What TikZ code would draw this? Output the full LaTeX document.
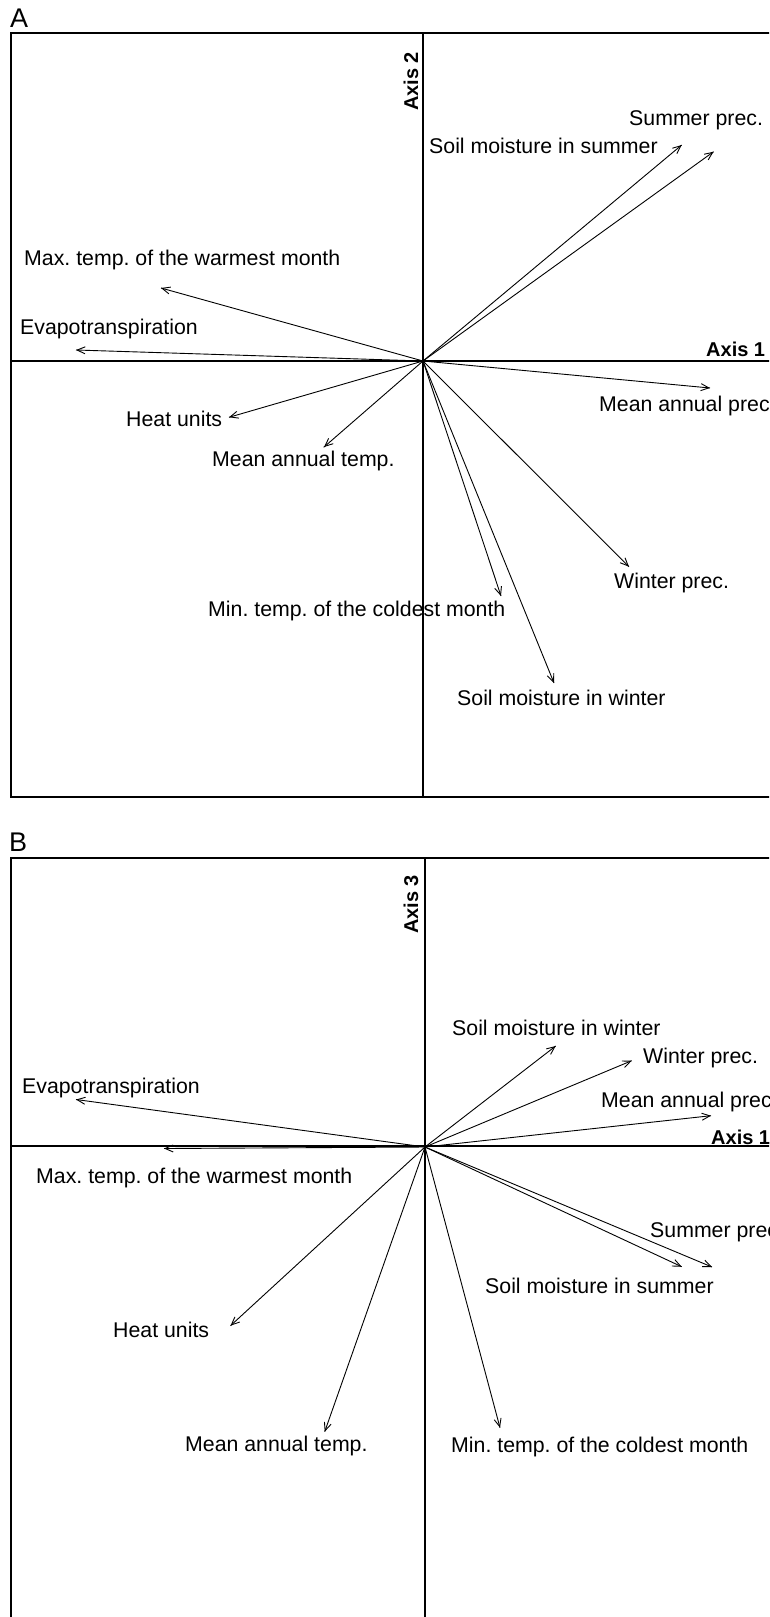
\documentclass[tikz,border=0pt]{standalone}
\usepackage{fontspec}
\setmainfont{Liberation Sans}
\frenchspacing
\usetikzlibrary{arrows.meta, decorations.markings}
\tikzstyle{Arrow} = [
line width=0.9pt,
decoration={
markings,
mark=at position 0.9999 with {
\arrow[line width=0.9pt]{Straight Barb[length=8pt,width=7pt]}}},
preaction = {decorate}]
\tikzstyle{Frame} = [line width=1.8pt]
\tikzstyle{AxisLine} = [line width=1.2pt]
\tikzstyle{Lab} = [inner sep=0pt, anchor=base west, font=\fontsize{21.3}{25}\selectfont]
\tikzstyle{AxLab} = [inner sep=0pt, anchor=base west, font=\bfseries\fontsize{20}{24}\selectfont]
\tikzstyle{Panel} = [inner sep=0pt, anchor=base west, font=\fontsize{27}{32}\selectfont]

\begin{document}
\begin{tikzpicture}[x=1pt, y=-1pt]
    \useasboundingbox (0,0) rectangle (769,1617);
    \clip (0,0) rectangle (769,1617);

    % panel A
    \node [Panel] (pA) at (10,27) {A};
    \draw [Frame] (11,33) rectangle (800,797);
    \coordinate (oA) at (423,361);
    \coordinate (nA) at (423,33);
    \coordinate (sA) at (423,797);
    \coordinate (wA) at (11,361);
    \coordinate (eA) at (800,361);
    \draw [AxisLine] (nA) -- (sA);
    \draw [AxisLine] (wA) -- (eA);
    \node [AxLab] (x1A) at (706,356){Axis 1};
    \node [AxLab, rotate=90] (x2A) at (418,111){Axis 2};

    \coordinate (A1) at (713.6,151.7);
    \coordinate (A2) at (681.7,145);
    \coordinate (A3) at (161,288);
    \coordinate (A4) at (76,350);
    \coordinate (A5) at (710,388);
    \coordinate (A6) at (229,417.3);
    \coordinate (A7) at (323.7,447.3);
    \coordinate (A8) at (629,566.7);
    \coordinate (A9) at (501,596);
    \coordinate (A10) at (554,683);

    \node [Lab] (LA1) at (629,125){Summer prec.};
    \node [Lab] (LA2) at (429,153){Soil moisture in summer};
    \node [Lab] (LA3) at (24,265){Max. temp. of the warmest month};
    \node [Lab] (LA4) at (20,334){Evapotranspiration};
    \node [Lab] (LA5) at (599,411){Mean annual prec.};
    \node [Lab] (LA6) at (126,426){Heat units};
    \node [Lab] (LA7) at (212,466){Mean annual temp.};
    \node [Lab] (LA8) at (614,588){Winter prec.};
    \node [Lab] (LA9) at (208,616){Min. temp. of the coldest month};
    \node [Lab] (LA10) at (457,705){Soil moisture in winter};

    \foreach \i in {1,...,10}
        \draw [Arrow] (oA) to (A\i);

    % panel B
    \node [Panel] (pB) at (9,851) {B};
    \draw [Frame] (11,858) rectangle (800,1700);
    \coordinate (oB) at (425,1147);
    \coordinate (nB) at (425,858);
    \coordinate (sB) at (425,1700);
    \coordinate (wB) at (11,1146);
    \coordinate (eB) at (800,1146);
    \draw [AxisLine] (nB) -- (sB);
    \draw [AxisLine] (wB) -- (eB);
    \node [AxLab] (x1B) at (711,1144){Axis 1};
    \node [AxLab, rotate=90] (x3B) at (418,934){Axis 3};

    \coordinate (B1) at (555.7,1046);
    \coordinate (B2) at (631.7,1060.7);
    \coordinate (B3) at (76,1099.5);
    \coordinate (B4) at (711,1115.7);
    \coordinate (B5) at (164,1148.5);
    \coordinate (B6) at (712,1267);
    \coordinate (B7) at (681.7,1266.7);
    \coordinate (B8) at (230.5,1325.7);
    \coordinate (B9) at (324.7,1431.7);
    \coordinate (B10) at (500,1427.7);

    \node [Lab] (LB1) at (452,1035){Soil moisture in winter};
    \node [Lab] (LB2) at (643,1063){Winter prec.};
    \node [Lab] (LB3) at (22,1093){Evapotranspiration};
    \node [Lab] (LB4) at (601,1107){Mean annual prec.};
    \node [Lab] (LB5) at (36,1183){Max. temp. of the warmest month};
    \node [Lab] (LB6) at (650,1237){Summer prec.};
    \node [Lab] (LB7) at (485,1293){Soil moisture in summer};
    \node [Lab] (LB8) at (113,1337){Heat units};
    \node [Lab] (LB9) at (185,1451){Mean annual temp.};
    \node [Lab] (LB10) at (451,1452){Min. temp. of the coldest month};

    \foreach \i in {1,...,10}
        \draw [Arrow] (oB) to (B\i);
\end{tikzpicture}
\end{document}
